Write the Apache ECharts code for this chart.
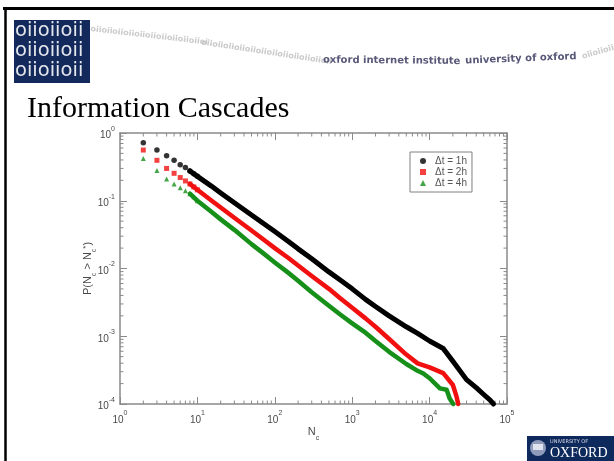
<!DOCTYPE html>
<html><head><meta charset="utf-8">
<script src="https://cdn.jsdelivr.net/npm/echarts@6/dist/echarts.min.js"></script>
<style>html,body{margin:0;padding:0;background:#fff;}#c{width:614px;height:461px;}</style>
</head><body><div id="c"></div>
<script>
const seriesNames = ['Δt = 1h', 'Δt = 2h', 'Δt = 4h'];
const seriesColors = ['#000000', '#f01010', '#17901a'];

// separate markers at small N_c
const ncSmall = [2, 3, 4, 5, 6, 7, 8, 9, 10];
const pSmall1h = [0.72, 0.56, 0.46, 0.395, 0.34, 0.31, 0.275, 0.25, 0.229];
const pSmall2h = [0.56, 0.395, 0.30, 0.254, 0.22, 0.196, 0.177, 0.16, 0.145];
const pSmall4h = [0.42, 0.28, 0.21, 0.177, 0.156, 0.141, 0.127, 0.115, 0.10];

// dense part (markers merge into a thick curve)
const nc1h = [8, 10, 15, 20, 30, 50, 70, 100, 150, 200, 300, 500, 700, 1000, 1500, 2000, 3000, 5000, 7000, 10000, 15000, 20000, 30000, 40000, 50000, 60000, 67000];
const p1h = [0.275, 0.229, 0.166, 0.130, 0.0933, 0.0617, 0.0468, 0.0351, 0.0251, 0.0195, 0.01396, 0.00891, 0.00676, 0.00501, 0.00347, 0.00275, 0.00200, 0.00138, 0.0011, 0.000851, 0.000661, 0.000427, 0.000229, 0.000174, 0.000138, 0.000115, 0.0001];

const nc2h = [8, 10, 15, 20, 30, 50, 70, 100, 150, 200, 300, 500, 700, 1000, 1500, 2000, 3000, 5000, 7000, 10000, 15000, 20000, 22400, 23400];
const p2h = [0.177, 0.145, 0.102, 0.0794, 0.0562, 0.0363, 0.0272, 0.0200, 0.0143, 0.0111, 0.00776, 0.00501, 0.00363, 0.00263, 0.00182, 0.00138, 0.000912, 0.000537, 0.000398, 0.000347, 0.000285, 0.000191, 0.000126, 0.0001];

const nc4h = [8, 10, 15, 20, 30, 50, 70, 100, 150, 200, 300, 500, 700, 1000, 1500, 2000, 3000, 5000, 7000, 8300, 10000, 13600, 16600, 18200, 20200];
const p4h = [0.127, 0.100, 0.0692, 0.0531, 0.0372, 0.0229, 0.0170, 0.0123, 0.00861, 0.00661, 0.00447, 0.00282, 0.00209, 0.00155, 0.00112, 0.000851, 0.000589, 0.000389, 0.000309, 0.000282, 0.00024, 0.00017, 0.000162, 0.00012, 0.0001];

// axis tick helpers
const xDecades = [1, 10, 100, 1000, 10000];
const yDecades = [0.0001, 0.001, 0.01, 0.1];
const minorMultipliers = [2, 3, 4, 5, 6, 7, 8, 9];

const xMin = 1, xMax = 100000, yMin = 0.0001, yMax = 1;
const axisGrey = '#8a8a8a';
const labelGrey = '#4a4a4a';

const minorX = [];
xDecades.forEach(d => minorMultipliers.forEach(m => minorX.push([d * m, yMin])));
const minorY = [];
yDecades.forEach(d => minorMultipliers.forEach(m => minorY.push([xMin, d * m])));

const pow10 = v => '{b|10}{s|' + Math.round(Math.log10(v)) + '}';
const labelRich = {
  b: { fontSize: 10, color: labelGrey, fontFamily: 'Liberation Sans', lineHeight: 15, verticalAlign: 'bottom' },
  s: { fontSize: 7, color: labelGrey, fontFamily: 'Liberation Sans', lineHeight: 8, verticalAlign: 'top' }
};
const nameRich = {
  a: { fontSize: 11, color: labelGrey, fontFamily: 'Liberation Sans', lineHeight: 16, verticalAlign: 'top' },
  s: { fontSize: 7, color: labelGrey, fontFamily: 'Liberation Sans', lineHeight: 8, verticalAlign: 'bottom' },
  p: { fontSize: 8, color: labelGrey, fontFamily: 'Liberation Sans', lineHeight: 8, verticalAlign: 'top' }
};

function baseAxis() {
  return {
    type: 'log', logBase: 10,
    splitLine: { show: false },
    axisLine: { show: true, onZero: false, lineStyle: { color: axisGrey, width: 1.5 } },
    axisTick: { show: true, inside: true, length: 7, lineStyle: { color: axisGrey, width: 1 } }
  };
}

function tickRenderer(isX) {
  return function (params, api) {
    const L = 3.5;
    const st = { stroke: axisGrey, lineWidth: 1 };
    if (isX) {
      const v = api.value(0);
      const b = api.coord([v, yMin]);
      const t = api.coord([v, yMax]);
      return { type: 'group', children: [
        { type: 'line', shape: { x1: b[0], y1: b[1], x2: b[0], y2: b[1] - L }, style: st },
        { type: 'line', shape: { x1: t[0], y1: t[1], x2: t[0], y2: t[1] + L }, style: st }
      ] };
    } else {
      const v = api.value(1);
      const l = api.coord([xMin, v]);
      const r = api.coord([xMax, v]);
      return { type: 'group', children: [
        { type: 'line', shape: { x1: l[0], y1: l[1], x2: l[0] + L, y2: l[1] }, style: st },
        { type: 'line', shape: { x1: r[0], y1: r[1], x2: r[0] - L, y2: r[1] }, style: st }
      ] };
    }
  };
}

const smallSets = [pSmall1h, pSmall2h, pSmall4h];
const bigX = [nc1h, nc2h, nc4h];
const bigY = [p1h, p2h, p4h];
const symbols = ['circle', 'rect', 'triangle'];

const series = [];
for (let i = 0; i < 3; i++) {
  series.push({
    type: 'scatter', name: seriesNames[i], symbol: symbols[i], symbolSize: i === 0 ? 5.5 : 5,
    itemStyle: { color: seriesColors[i] }, clip: false, z: 5 - i,
    data: ncSmall.map((x, k) => [x, smallSets[i][k]])
  });
}
for (let i = 0; i < 3; i++) {
  series.push({
    type: 'line', name: seriesNames[i], showSymbol: false, clip: false, z: 5 - i,
    lineStyle: { color: seriesColors[i], width: i === 0 ? 5 : 4.5, join: 'round', cap: 'round' },
    itemStyle: { color: seriesColors[i] },
    data: bigX[i].map((x, k) => [x, bigY[i][k]])
  });
}
series.push({ type: 'custom', silent: true, clip: false, z: 1, renderItem: tickRenderer(true), data: minorX });
series.push({ type: 'custom', silent: true, clip: false, z: 1, renderItem: tickRenderer(false), data: minorY });

const bannerBits = 'oiioiioiioiioiioiioiioiioiioiioiioiioii';

const option = {
  animation: false,
  backgroundColor: '#ffffff',
  grid: { left: 120, right: 107, top: 133, bottom: 57, containLabel: false },
  legend: {
    left: 410, top: 152, orient: 'vertical',
    data: [
      { name: seriesNames[0], icon: 'circle' },
      { name: seriesNames[1], icon: 'rect' },
      { name: seriesNames[2], icon: 'triangle' }
    ],
    itemWidth: 6, itemHeight: 6, itemGap: 1,
    padding: [4, 5, 4, 10],
    borderColor: '#808080', borderWidth: 1,
    textStyle: { fontSize: 10, color: '#555', fontFamily: 'Liberation Sans', lineHeight: 10, padding: [0, 0, 0, 4] }
  },
  xAxis: [
    Object.assign(baseAxis(), {
      position: 'bottom', min: xMin, max: xMax,
      axisLabel: { formatter: pow10, rich: labelRich, margin: 6, showMinLabel: true, showMaxLabel: true },
      name: '{a|N}{s|c}', nameLocation: 'middle', nameGap: 22, nameMoveOverlap: false,
      nameTextStyle: { rich: nameRich }
    }),
    Object.assign(baseAxis(), {
      position: 'top', min: xMin, max: xMax, axisLabel: { show: false }
    })
  ],
  yAxis: [
    Object.assign(baseAxis(), {
      position: 'left', min: yMin, max: yMax,
      axisLabel: { formatter: pow10, rich: labelRich, margin: 5, showMinLabel: true, showMaxLabel: true },
      name: '{a|P(N}{s|c}{a| > N}{s|c}{p|*}{a|)}', nameLocation: 'middle', nameGap: 22, nameMoveOverlap: false,
      nameTextStyle: { rich: nameRich }
    }),
    Object.assign(baseAxis(), {
      position: 'right', min: yMin, max: yMax, axisLabel: { show: false }
    })
  ],
  series: series,
  graphic: [
    { type: 'line', shape: { x1: 3, y1: 8.5, x2: 614, y2: 8.5 }, style: { stroke: '#000', lineWidth: 3 } },
    { type: 'line', shape: { x1: 5.5, y1: 7, x2: 5.5, y2: 461 }, style: { stroke: '#000', lineWidth: 2.5 } },
    { type: 'rect', shape: { x: 14, y: 20, width: 76, height: 63 }, style: { fill: '#13295b' } },
    { type: 'text', left: 15, top: 21, style: { text: 'oiioiioii', fill: '#e4e6ee', font: '19.5px "DejaVu Sans"' } },
    { type: 'text', left: 15, top: 41, style: { text: 'oiioiioii', fill: '#e4e6ee', font: '19.5px "DejaVu Sans"' } },
    { type: 'text', left: 15, top: 61, style: { text: 'oiioiioii', fill: '#e4e6ee', font: '19.5px "DejaVu Sans"' } },
    { type: 'text', x: 91, y: 25, rotation: -0.115, style: { text: bannerBits.slice(0, 32), fill: '#cacaca', font: 'bold 8px "DejaVu Sans"' } },
    { type: 'text', x: 202, y: 38.5, rotation: -0.15, style: { text: bannerBits.slice(0, 36), fill: '#cacaca', font: 'bold 8px "DejaVu Sans"' } },
    { type: 'text', x: 323, y: 55, rotation: -0.01, style: { text: 'oxford internet institute', fill: '#585878', font: 'bold 10px "DejaVu Sans"' } },
    { type: 'text', x: 465, y: 56, rotation: 0.04, style: { text: 'university of oxford', fill: '#585878', font: 'bold 10px "DejaVu Sans"' } },
    { type: 'text', x: 581, y: 53, rotation: 0.28, style: { text: bannerBits.slice(0, 12), fill: '#cacaca', font: 'bold 8px "DejaVu Sans"' } },
    { type: 'text', left: 27, top: 94, style: { text: 'Information Cascades', fill: '#000', font: '30px "Liberation Serif"' } },
    { type: 'rect', shape: { x: 527, y: 436, width: 87, height: 25 }, style: { fill: '#0e2a5c' } },
    { type: 'circle', shape: { cx: 538, cy: 448, r: 8 }, style: { fill: '#8f9bbb' } },
    { type: 'rect', shape: { x: 533, y: 444, width: 10, height: 6 }, style: { fill: '#dfe3ee' } },
    { type: 'text', left: 550, top: 439, style: { text: 'UNIVERSITY OF', fill: '#d8dcea', font: '5px "DejaVu Sans"' } },
    { type: 'text', left: 550, top: 446, style: { text: 'OXFORD', fill: '#ffffff', font: '14px "Liberation Serif"' } }
  ]
};

const chart = echarts.init(document.getElementById('c'), null, { renderer: 'canvas' });
chart.setOption(option);
</script>
</body></html>
